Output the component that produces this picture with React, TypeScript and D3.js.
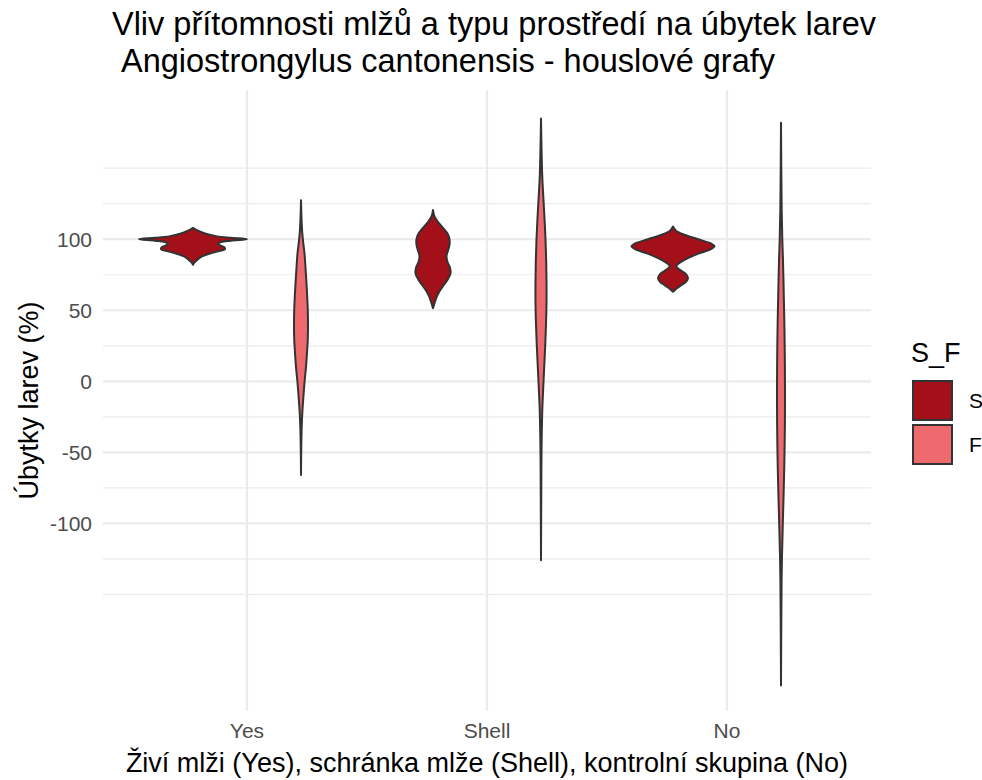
import React from "react";
import * as d3 from "d3";

// ---- data ----
const categories = ["Yes", "Shell", "No"];
const groups = ["S", "F"];
const groupColors = ["#A3101A", "#EE6A6E"];
const yTicks = [-100, -50, 0, 50, 100];
const yMinor = [-150, -125, -75, -25, 25, 75, 125, 150];

// violin profiles: [value (%), relative density]
const yesS: [number, number][] = [
  [108, 0], [106, 5], [104, 12], [102, 24], [101, 38], [100, 54], [99, 38], [98, 28],
  [96.5, 25], [94.5, 31], [93, 32], [92, 28], [90, 17], [88, 9], [86, 5], [84, 2], [82, 0],
];
const yesF: [number, number][] = [
  [127.5, 0], [115, 0.5], [105, 1.2], [99, 2], [90, 3.5], [80, 4.5], [65, 5.8], [50, 6.8],
  [40, 7], [30, 6.8], [20, 6], [10, 5], [0, 3.6], [-10, 2.5], [-20, 1.5], [-30, 0.8], [-45, 0.3], [-66, 0],
];
const shellS: [number, number][] = [
  [120.5, 0], [116, 1.5], [112, 5], [108, 10], [104, 14.5], [100, 16.5], [96, 16.5], [92, 15],
  [88, 13.5], [84, 14.5], [80, 17], [76, 17.5], [72, 15], [68, 11], [64, 7], [60, 4], [56, 2], [51.5, 0],
];
const shellF: [number, number][] = [
  [185, 0], [165, 0.5], [145, 1.2], [130, 2.3], [115, 3.5], [100, 4.5], [85, 5.2], [70, 5.5],
  [55, 5.5], [40, 5], [25, 4.2], [10, 3.2], [-5, 2.2], [-20, 1.3], [-40, 0.7], [-60, 0.4], [-90, 0.2], [-126, 0],
];
const noS: [number, number][] = [
  [109, 0], [106, 3], [103, 12], [100, 25], [97, 38], [95, 41.5], [93, 38], [90, 26], [87, 16],
  [84, 8], [81.5, 3.5], [80, 4], [77.5, 9], [75, 13.5], [72.5, 15], [70, 13], [67.5, 8], [65, 3], [63, 0],
];
const noF: [number, number][] = [
  [182, 0], [150, 0.3], [120, 0.7], [100, 1.3], [85, 2], [60, 2.8], [35, 3.5], [10, 3.9], [-10, 4],
  [-30, 3.9], [-55, 3.4], [-80, 2.6], [-100, 1.8], [-120, 1.1], [-140, 0.6], [-170, 0.3], [-214, 0],
];
const violins = [
  { cat: "Yes", group: "S", profile: yesS },
  { cat: "Yes", group: "F", profile: yesF },
  { cat: "Shell", group: "S", profile: shellS },
  { cat: "Shell", group: "F", profile: shellF },
  { cat: "No", group: "S", profile: noS },
  { cat: "No", group: "F", profile: noF },
];

const titleLines = [
  "Vliv přítomnosti mlžů a typu prostředí na úbytek larev",
  "Angiostrongylus cantonensis - houslové grafy",
];
const xTitle = "Živí mlži (Yes), schránka mlže (Shell), kontrolní skupina (No)";
const yTitle = "Úbytky larev (%)";
const legendTitle = "S_F";

export default function App() {
  const W = 982, H = 780;
  const panel = { left: 103, right: 871, top: 90, bottom: 711 };
  const font = "'Liberation Sans', Arial, sans-serif";

  const x = d3.scalePoint<string>().domain(categories).range([panel.left, panel.right]).padding(0.6);
  const step = x.step();
  const y = d3.scaleLinear().domain([-232, 205]).range([panel.bottom, panel.top]);
  const dodge = d3.scalePoint<string>().domain(groups).range([-0.225 * step, 0.225 * step]);
  const color = d3.scaleOrdinal<string, string>().domain(groups).range(groupColors);
  const maxDens = d3.max(violins.flatMap((v) => v.profile.map((p) => p[1])))!;
  const w = d3.scaleLinear().domain([0, maxDens]).range([0, 0.225 * step]);

  return (
    <svg width={W} height={H} style={{ display: "block", position: "absolute", left: 0, top: 0 }}>
      <rect width={W} height={H} fill="#fff" />
      {/* title */}
      <text x={494} y={35} textAnchor="middle" fontFamily={font} fontSize={32.5} fill="#000">{titleLines[0]}</text>
      <text x={121} y={72} textAnchor="start" fontFamily={font} fontSize={32.5} fill="#000">{titleLines[1]}</text>
      {/* grid */}
      {yMinor.map((t) => (
        <line key={"mn" + t} x1={panel.left} x2={panel.right} y1={y(t)} y2={y(t)} stroke="#EBEBEB" strokeWidth={1.2} />
      ))}
      {yTicks.map((t) => (
        <line key={"mj" + t} x1={panel.left} x2={panel.right} y1={y(t)} y2={y(t)} stroke="#EBEBEB" strokeWidth={2.2} />
      ))}
      {categories.map((c) => (
        <line key={"vx" + c} x1={x(c)} x2={x(c)} y1={panel.top} y2={panel.bottom} stroke="#EBEBEB" strokeWidth={2.2} />
      ))}
      {/* violins */}
      {violins.map((v, i) => {
        const cx = x(v.cat)! + dodge(v.group)!;
        const area = d3
          .area<[number, number]>()
          .y((d) => y(d[0]))
          .x0((d) => cx - w(d[1]))
          .x1((d) => cx + w(d[1]))
          .curve(d3.curveCatmullRom.alpha(0.5));
        return (
          <path key={i} d={area(v.profile)!} fill={color(v.group)} stroke="#333333" strokeWidth={2} strokeLinejoin="round" />
        );
      })}
      {/* y axis labels */}
      {yTicks.map((t) => (
        <text key={"yl" + t} x={92} y={y(t)} dy="0.35em" textAnchor="end" fontFamily={font} fontSize={21} fill="#4D4D4D">{t}</text>
      ))}
      {/* x axis labels */}
      {categories.map((c) => (
        <text key={"xl" + c} x={x(c)} y={738} textAnchor="middle" fontFamily={font} fontSize={21} fill="#4D4D4D">{c}</text>
      ))}
      <text x={487} y={772} textAnchor="middle" fontFamily={font} fontSize={27} fill="#000">{xTitle}</text>
      <text transform={`translate(38, ${(panel.top + panel.bottom) / 2}) rotate(-90)`} textAnchor="middle" fontFamily={font} fontSize={27} fill="#000">{yTitle}</text>
      {/* legend */}
      <text x={911} y={362} fontFamily={font} fontSize={27} fill="#000">{legendTitle}</text>
      {groups.map((g, i) => (
        <g key={"lg" + g} transform={`translate(912, ${380 + i * 44})`}>
          <rect x={1} y={1} width={39} height={39} fill={color(g)} stroke="#333333" strokeWidth={2} />
          <text x={57} y={21} dy="0.35em" fontFamily={font} fontSize={21} fill="#000">{g}</text>
        </g>
      ))}
    </svg>
  );
}
